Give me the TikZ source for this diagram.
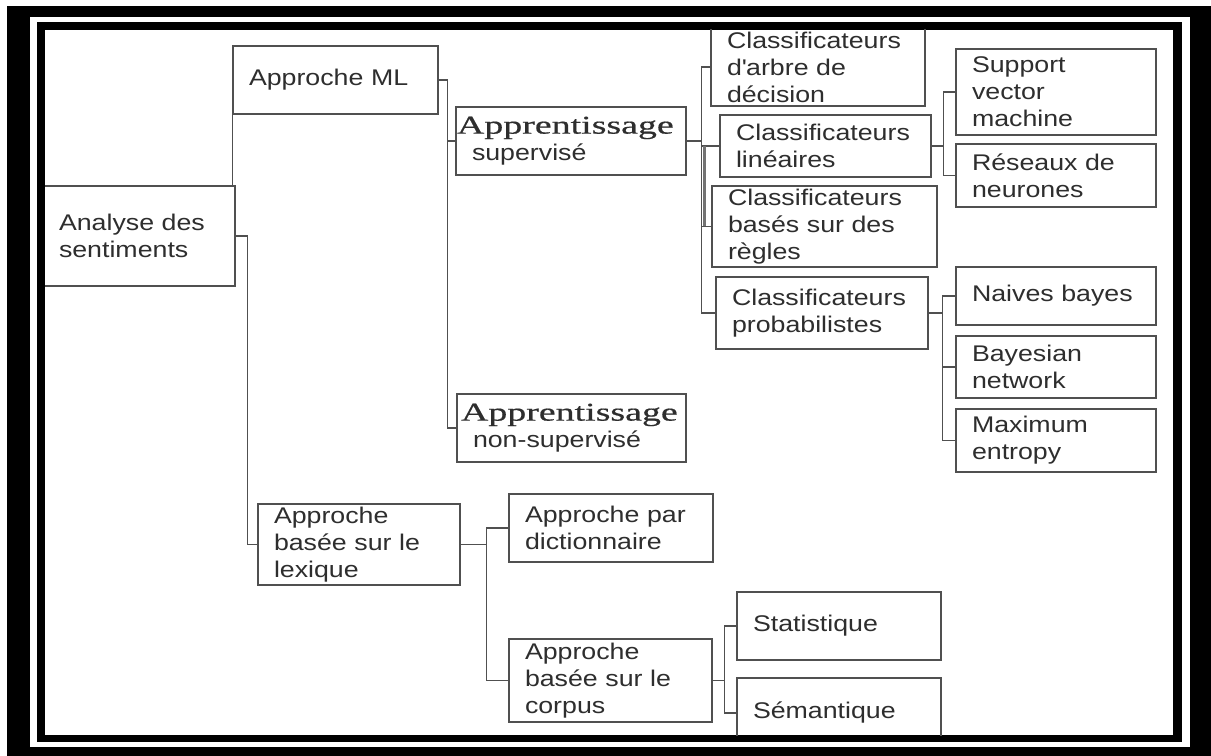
\documentclass[tikz,border=0pt]{standalone}
\usepackage{fontspec}
\setmainfont{Liberation Sans}[FakeStretch=1.18]
\newfontfamily\apfont{Liberation Serif}[FakeStretch=1.48,FakeBold=0.6]
\definecolor{linec}{HTML}{505050}
\definecolor{textc}{HTML}{2E2E2E}
\newcommand{\ap}{\apfont\fontsize{19.2}{20.25}\selectfont}
\tikzset{
  bx/.code 2 args={%
    \pgfmathsetlengthmacro\bxw{#1*0.75pt}%
    \pgfmathsetlengthmacro\bxh{#2*0.75pt}%
    \pgfmathsetlengthmacro\bxt{(#1-32)*0.75pt}%
    \edef\bxdo{\noexpand\tikzset{minimum width=\bxw,minimum height=\bxh,text width=\bxt}}\bxdo},
  box/.style={draw=linec, line width=1.2pt, inner xsep=12pt, inner ysep=0pt,
    align=left, text=textc, font=\fontsize{17}{20.25}\selectfont},
  conn/.style={draw=linec, line width=0.95pt},
}
\begin{document}
\begin{tikzpicture}[x=0.75pt,y=-0.75pt]
\useasboundingbox (0,0) rectangle (1211,756);
% frame
\fill[white] (0,0) rectangle (1211,756);
\fill[black] (7,6) rectangle (1211,756);
\fill[white] (30,17) rectangle (1190,747);
\fill[black] (37,22) rectangle (1182,742);
\fill[white] (45,30) rectangle (1173,735);
\begin{scope}
\clip (45,30) rectangle (1173,735);
% nodes
\node[box, bx={192}{100}] (ana) at (139,236) {Analyse des\\sentiments};
\node[box, bx={205}{68}] (ml) at (335.5,80) {Approche ML};
\node[box, bx={230}{68}] (sup) at (571,141) {\hspace*{-11.25pt}\mbox{\ap Apprentissage}\\supervisé};
\node[box, bx={229}{68}] (nsup) at (571.5,428) {\hspace*{-9pt}\mbox{\ap Apprentissage}\\non-supervisé};
\node[box, bx={214}{78}] (arbre) at (818,67) {Classificateurs\\d\textquotesingle arbre de\\décision};
\node[box, bx={211}{62}] (lin) at (825.5,146) {Classificateurs\\linéaires};
\node[box, bx={225}{81}] (regles) at (824.5,226.5) {Classificateurs\\basés sur des\\règles};
\node[box, bx={212}{72}] (prob) at (822,313) {Classificateurs\\probabilistes};
\node[box, bx={200}{86}] (svm) at (1056,92) {Support\\vector\\machine};
\node[box, bx={200}{63}] (res) at (1056,175.5) {Réseaux de\\neurones};
\node[box, bx={200}{58}] (naive) at (1056,296) {Naives bayes};
\node[box, bx={200}{62}] (bayes) at (1056,367) {Bayesian\\network};
\node[box, bx={200}{63}] (maxent) at (1056,440.5) {Maximum\\entropy};
\node[box, bx={202}{81}] (lex) at (359,544.5) {Approche\\basée sur le\\lexique};
\node[box, bx={204}{68}] (dict) at (611,528) {Approche par\\dictionnaire};
\node[box, bx={203}{83}] (corp) at (610.5,680.5) {Approche\\basée sur le\\corpus};
\node[box, bx={204}{68}] (stat) at (839,626) {Statistique};
\node[box, bx={204}{70}] (sem) at (839,713) {Sémantique};
% connectors
\draw[conn] (ml.south west) -- (ml.south west |- ana.north);
\draw[conn] (ana.east) -- ++(12,0) |- (lex.west);
\draw[conn] (ml.east) -- ++(9,0) coordinate (mlj) |- (nsup.west);
\draw[conn] (mlj |- sup.west) -- (sup.west);
\draw[conn] (sup.east) -- ++(15,0) coordinate (sj);
\draw[conn] (arbre.west) -- (arbre.west -| sj) -- (prob.west -| sj) -- (prob.west);
\draw[conn] (sj |- lin.west) -- (lin.west);
\draw[conn] (sj |- regles.west) -- (regles.west);
\draw[conn, line width=1.6pt, linec!80] ([xshift=2]sj |- lin.west) -- ([xshift=2]sj |- regles.west);
\draw[conn] (lin.east) -- ++(12,0) coordinate (lj);
\draw[conn] (svm.west) -- (svm.west -| lj) -- (res.west -| lj) -- (res.west);
\draw[conn] (prob.east) -- ++(14,0) coordinate (pj);
\draw[conn] (naive.west) -- (naive.west -| pj) -- (maxent.west -| pj) -- (maxent.west);
\draw[conn] (pj |- bayes.west) -- (bayes.west);
\draw[conn] (lex.east) -- ++(26,0) coordinate (xj);
\draw[conn] (dict.west) -- (dict.west -| xj) -- (corp.west -| xj) -- (corp.west);
\draw[conn] (corp.east) -- ++(12,0) coordinate (cj);
\draw[conn] (stat.west) -- (stat.west -| cj) -- (sem.west -| cj) -- (sem.west);
\end{scope}
\end{tikzpicture}
\end{document}
